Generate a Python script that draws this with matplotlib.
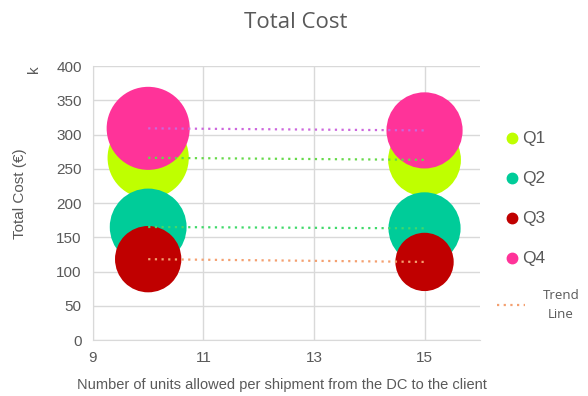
import numpy as np
import matplotlib
matplotlib.use("Agg")
import matplotlib.pyplot as plt
from matplotlib.lines import Line2D

# Data: units per shipment, total cost (k€) and bubble size per quarter
units = [10, 15]
quarters = ["Q1", "Q2", "Q3", "Q4"]
cost_q1 = [266, 263]
cost_q2 = [165, 163]
cost_q3 = [118, 114]
cost_q4 = [309, 306]
bubble_q1 = [66, 53]
bubble_q2 = [59, 52]
bubble_q3 = [44, 34]
bubble_q4 = [69, 58]

costs = [cost_q1, cost_q2, cost_q3, cost_q4]
bubbles = [bubble_q1, bubble_q2, bubble_q3, bubble_q4]
colors = ["#BFFF00", "#00CC99", "#C00000", "#FF3399"]
trend_colors = ["#66D94A", "#40D96A", "#F4A070", "#CC66DD"]

plt.rcParams["font.family"] = ["Liberation Sans", "DejaVu Sans"]
grey = "#595959"

fig = plt.figure(figsize=(5.88, 3.96), dpi=100)
ax = fig.add_axes([0.158, 0.1414, 0.658, 0.6919])

# stacking: Q2 under Q1, then Q3, Q4 on top
z = {1: 3, 0: 2, 2: 4, 3: 5}
for i in range(4):
    ax.scatter(units, costs[i], s=np.array(bubbles[i]) * 100 * 0.5184,
               color=colors[i], edgecolors="none", zorder=z[i])

# linear trend lines
xs = np.array(units, dtype=float)
for i in range(4):
    m, b = np.polyfit(xs, costs[i], 1)
    ax.plot(xs, m * xs + b, linestyle=(0, (1, 2)), color=trend_colors[i],
            lw=1.6, zorder=10)

ax.set_xlim(9, 16)
ax.set_ylim(0, 400)
ax.set_xticks([9, 11, 13, 15])
ax.set_yticks(range(0, 401, 50))
ax.grid(True, color="#D9D9D9", lw=1)
ax.set_axisbelow(True)
for s in ["top", "right"]:
    ax.spines[s].set_visible(False)
for s in ["left", "bottom"]:
    ax.spines[s].set_color("#D9D9D9")
ax.tick_params(length=0, colors=grey, labelsize=11, pad=8)

fig.text(0.503, 0.943, "Total Cost", ha="center", va="center", fontsize=16,
         color=grey, family=["Open Sans", "DejaVu Sans"])
fig.text(0.034, 0.51, "Total Cost (€)", rotation=90, ha="center",
         va="center", fontsize=11, color=grey)
fig.text(0.058, 0.825, "k", rotation=90, ha="center", va="center",
         fontsize=11, color=grey)
fig.text(0.48, 0.028, "Number of units allowed per shipment from the DC to the client",
         ha="center", va="center", fontsize=10.5, color=grey)

# legend: quarter markers
leg_y = [138, 178, 218, 258]
for q, c, yp in zip(quarters, colors, leg_y):
    fy = 1 - yp / 396
    fig.add_artist(Line2D([512 / 588], [fy], marker="o", ls="none",
                          color=c, markersize=7.5, transform=fig.transFigure))
    fig.text(522 / 588, fy, q, ha="left", va="center", fontsize=12.5,
             color=grey)

# legend: trend line entry
fy = 1 - 305 / 396
fig.add_artist(Line2D([497 / 588, 525 / 588], [fy, fy], ls=(0, (1, 2)),
                      color="#F4A070", lw=1.6, transform=fig.transFigure))
fig.text(561 / 588, fy, "Trend\nLine", ha="center", va="center",
         multialignment="center", fontsize=9.5, color=grey,
         linespacing=1.6, family=["Open Sans", "DejaVu Sans"])

fig.savefig("out.png", dpi=100)
